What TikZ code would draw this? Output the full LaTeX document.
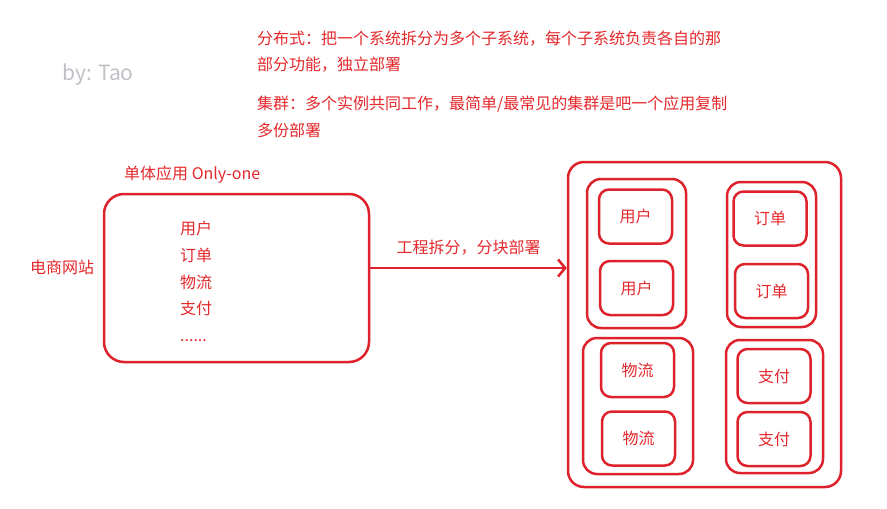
\documentclass[tikz,border=0pt]{standalone}
\usepackage{fontspec}
\setmainfont{Noto Sans CJK SC}
\usetikzlibrary{arrows.meta}
\definecolor{linered}{RGB}{221,34,44}
\definecolor{textred}{RGB}{228,40,44}
\definecolor{signgray}{RGB}{190,192,198}

\begin{document}
\begin{tikzpicture}[x=1pt,y=-1pt,
  every node/.style={inner sep=0pt,font=\fontsize{16}{19}\selectfont,text=textred},
  note/.style={anchor=base west},
  box/.style={draw=linered,line width=2.5pt,rounded corners=#1},
  box/.default=10pt,
  svc/.style={box,minimum width=73,minimum height=54}]
\useasboundingbox (0,0) rectangle (887,509);

% notes at the top
\node [note] (dist1) at (257,44) {分布式：把一个系统拆分为多个子系统，每个子系统负责各自的那};
\node [note] (dist2) at (257,70) {部分功能，独立部署};
\node [note] (clus1) at (257,109) {集群：多个实例共同工作，最简单/最常见的集群是吧一个应用复制};
\node [note] (clus2) at (257,136) {多份部署};
\node [note,text=signgray,font=\fontsize{21}{24}\selectfont] (sign) at (62,80) {by: Tao};

% single application
\node [note] (monotitle) at (124,179) {单体应用 Only-one};
\node [note] (site) at (30,273) {电商网站};
\node [box=20pt,minimum width=265,minimum height=168] (mono) at (236.5,278) {};
\node [note] (m1) at (180,234) {用户};
\node [note] (m2) at (180,261) {订单};
\node [note] (m3) at (180,288) {物流};
\node [note] (m4) at (180,314) {支付};
\node [note] (m5) at (180,341) {......};

% split services
\node [box=16pt,minimum width=273,minimum height=325] (outer) at (704.5,324.5) {};
\node [box=14pt,minimum width=99,minimum height=149] (grpuser) at (636.5,253.5) {};
\node [box=14pt,minimum width=89,minimum height=145] (grporder) at (771.5,254.5) {};
\node [box=14pt,minimum width=110,minimum height=136] (grpwl) at (638,406) {};
\node [box=14pt,minimum width=97,minimum height=133] (grppay) at (774.5,406.5) {};
\node [svc] (user1) at (635.5,216.5) {用户};
\node [svc] (user2) at (636.5,288) {用户};
\node [svc] (order1) at (770,218.5) {订单};
\node [svc] (order2) at (771.5,291) {订单};
\node [svc] (wl1) at (637.5,370) {物流};
\node [svc] (wl2) at (638.5,438.5) {物流};
\node [svc] (pay1) at (774,376) {支付};
\node [svc] (pay2) at (774,439) {支付};

\coordinate (split) at (470,268);
\draw [linered,line width=2.5pt,-{Straight Barb[length=7pt,width=17pt]}] (mono.east |- split) -- node [above=12pt] (splitlabel) {工程拆分，分块部署} (outer.west |- split);

\end{tikzpicture}
\end{document}
